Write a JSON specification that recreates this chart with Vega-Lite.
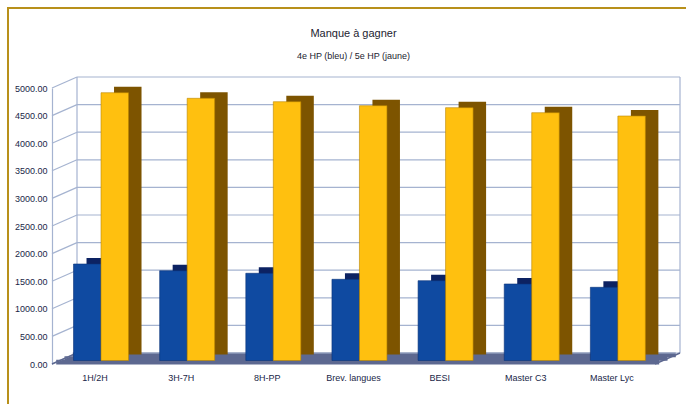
{
  "$schema": "https://vega.github.io/schema/vega-lite/v6.json",
  "width": 603,
  "height": 276,
  "autosize": {"type": "none"},
  "padding": {"left": 52, "top": 88, "right": 31, "bottom": 40},
  "background": "white",
  "title": {
    "text": "Manque à gagner",
    "subtitle": "4e HP (bleu) / 5e HP (jaune)",
    "font": "Liberation Sans",
    "fontSize": 11,
    "fontWeight": "normal",
    "color": "#1c1c30",
    "subtitleFont": "Liberation Sans",
    "subtitleFontSize": 9,
    "subtitleColor": "#1c1c30",
    "subtitlePadding": 13,
    "offset": -54,
    "anchor": "middle"
  },
  "config": {
    "view": {"stroke": null},
    "axis": {"labelFont": "Liberation Sans", "labelFontSize": 9, "labelColor": "#1a1f48", "title": null, "grid": false, "ticks": false, "labelOverlap": false}
  },
  "datasets": {
    "bars": [
      {"cat": "1H/2H", "serie": "4e HP", "v": 1748},
      {"cat": "1H/2H", "serie": "5e HP", "v": 4851},
      {"cat": "3H-7H", "serie": "4e HP", "v": 1627},
      {"cat": "3H-7H", "serie": "5e HP", "v": 4750},
      {"cat": "8H-PP", "serie": "4e HP", "v": 1580},
      {"cat": "8H-PP", "serie": "5e HP", "v": 4688},
      {"cat": "Brev. langues", "serie": "4e HP", "v": 1471},
      {"cat": "Brev. langues", "serie": "5e HP", "v": 4616},
      {"cat": "BESI", "serie": "4e HP", "v": 1446},
      {"cat": "BESI", "serie": "5e HP", "v": 4580},
      {"cat": "Master C3", "serie": "4e HP", "v": 1386},
      {"cat": "Master C3", "serie": "5e HP", "v": 4489},
      {"cat": "Master Lyc", "serie": "4e HP", "v": 1326},
      {"cat": "Master Lyc", "serie": "5e HP", "v": 4429}
    ],
    "ticks": [
      {"v": 0}, {"v": 500}, {"v": 1000}, {"v": 1500}, {"v": 2000}, {"v": 2500},
      {"v": 3000}, {"v": 3500}, {"v": 4000}, {"v": 4500}, {"v": 5000}
    ],
    "one": [{"k": 1}]
  },
  "layer": [
    {
      "data": {"name": "one"},
      "mark": {"type": "rule", "color": "#5d6890", "strokeWidth": 4.6, "xOffset": 4.2, "x2Offset": 4.2, "yOffset": -1.9},
      "encoding": {
        "x": {"value": 0},
        "x2": {"value": "width"},
        "y": {"datum": 0, "type": "quantitative", "scale": {"domain": [0, 5000], "nice": false}, "axis": {"values": [0, 500, 1000, 1500, 2000, 2500, 3000, 3500, 4000, 4500, 5000], "format": ".2f", "domainColor": "#a5b3d0", "domainWidth": 1.2, "labelPadding": 5, "labelOverlap": false, "tickCount": 11}}
      }
    },
    {
      "data": {"name": "one"},
      "mark": {"type": "rule", "color": "#5d6890", "strokeWidth": 4.6, "xOffset": 12.5, "x2Offset": 12.5, "yOffset": -5.5},
      "encoding": {
        "x": {"value": 0},
        "x2": {"value": "width"},
        "y": {"datum": 0, "type": "quantitative"}
      }
    },
    {
      "data": {"name": "one"},
      "mark": {"type": "rule", "color": "#5d6890", "strokeWidth": 4.6, "xOffset": 20.8, "x2Offset": 20.8, "yOffset": -9.1},
      "encoding": {
        "x": {"value": 0},
        "x2": {"value": "width"},
        "y": {"datum": 0, "type": "quantitative"}
      }
    },
    {
      "data": {"name": "ticks"},
      "mark": {"type": "rule", "color": "#a5b3d0", "strokeWidth": 1.2, "xOffset": 25, "x2Offset": 25, "yOffset": -11},
      "encoding": {
        "x": {"value": 0},
        "x2": {"value": "width"},
        "y": {"field": "v", "type": "quantitative"}
      }
    },
    {
      "data": {"name": "ticks"},
      "mark": {"type": "rule", "color": "#a5b3d0", "strokeWidth": 1.2, "x2Offset": 25, "y2Offset": -11},
      "encoding": {
        "x": {"value": 0},
        "x2": {"value": 0},
        "y": {"field": "v", "type": "quantitative"},
        "y2": {"field": "v"}
      }
    },
    {
      "data": {"name": "one"},
      "mark": {"type": "rule", "color": "#a5b3d0", "strokeWidth": 1.2, "xOffset": 25, "yOffset": -11, "y2Offset": -11},
      "encoding": {
        "x": {"value": 0},
        "y": {"datum": 0, "type": "quantitative"},
        "y2": {"datum": 5000}
      }
    },
    {
      "data": {"name": "one"},
      "mark": {"type": "rule", "color": "#a5b3d0", "strokeWidth": 1.2, "xOffset": 25, "yOffset": -11, "y2Offset": -11},
      "encoding": {
        "x": {"value": "width"},
        "y": {"datum": 0, "type": "quantitative"},
        "y2": {"datum": 5000}
      }
    },
    {
      "data": {"name": "one"},
      "mark": {"type": "rule", "color": "#5d6890", "strokeWidth": 1.5, "x2Offset": 25, "yOffset": 0, "y2Offset": -11},
      "encoding": {
        "x": {"value": "width"},
        "x2": {"value": "width"},
        "y": {"datum": 0, "type": "quantitative"},
        "y2": {"datum": 0}
      }
    },
    {
      "data": {"name": "one"},
      "mark": {"type": "rule", "color": "#5d6890", "strokeWidth": 1.5, "x2Offset": 25, "yOffset": 0, "y2Offset": -11},
      "encoding": {
        "x": {"value": 0},
        "x2": {"value": 0},
        "y": {"datum": 0, "type": "quantitative"},
        "y2": {"datum": 0}
      }
    },
    {
      "data": {"name": "bars"},
      "transform": [{"filter": "datum.serie == '4e HP'"}],
      "mark": {"type": "bar", "width": 27.5, "xOffset": 5.2, "yOffset": -9.5, "y2Offset": -9.5, "color": "#0c2262"},
      "encoding": {
        "x": {"field": "cat", "type": "nominal", "scale": {"domain": ["1H/2H", "3H-7H", "8H-PP", "Brev. langues", "BESI", "Master C3", "Master Lyc"], "paddingInner": 0, "paddingOuter": 0}, "axis": {"labelAngle": 0, "domain": false, "labelPadding": 9}},
        "y": {"field": "v", "type": "quantitative", "stack": null},
        "y2": {"datum": 0}
      }
    },
    {
      "data": {"name": "bars"},
      "transform": [{"filter": "datum.serie == '5e HP'"}],
      "mark": {"type": "bar", "width": 27.5, "xOffset": 32.7, "yOffset": -9.5, "y2Offset": -9.5, "color": "#7d5400"},
      "encoding": {
        "x": {"field": "cat", "type": "nominal"},
        "y": {"field": "v", "type": "quantitative", "stack": null},
        "y2": {"datum": 0}
      }
    },
    {
      "data": {"name": "bars"},
      "transform": [{"filter": "datum.serie == '4e HP'"}],
      "mark": {"type": "bar", "width": 27.5, "xOffset": -7.8, "yOffset": -3.5, "y2Offset": -3.5, "color": "#0f4aa1", "stroke": "#0a3378", "strokeWidth": 0.6},
      "encoding": {
        "x": {"field": "cat", "type": "nominal"},
        "y": {"field": "v", "type": "quantitative", "stack": null},
        "y2": {"datum": 0}
      }
    },
    {
      "data": {"name": "bars"},
      "transform": [{"filter": "datum.serie == '5e HP'"}],
      "mark": {"type": "bar", "width": 27.5, "xOffset": 19.7, "yOffset": -3.5, "y2Offset": -3.5, "color": "#ffc00f", "stroke": "#b88400", "strokeWidth": 0.6},
      "encoding": {
        "x": {"field": "cat", "type": "nominal"},
        "y": {"field": "v", "type": "quantitative", "stack": null},
        "y2": {"datum": 0}
      }
    },
    {
      "data": {"name": "one"},
      "mark": {"type": "rule", "color": "#b8901a", "strokeWidth": 2, "xOffset": -45, "x2Offset": 31, "yOffset": -80},
      "encoding": {
        "x": {"value": 0},
        "x2": {"value": "width"},
        "y": {"datum": 5000, "type": "quantitative"}
      }
    },
    {
      "data": {"name": "one"},
      "mark": {"type": "rule", "color": "#b8901a", "strokeWidth": 2, "xOffset": -44, "yOffset": -80, "y2Offset": 40},
      "encoding": {
        "x": {"value": 0},
        "y": {"datum": 5000, "type": "quantitative"},
        "y2": {"datum": 0}
      }
    }
  ]
}
